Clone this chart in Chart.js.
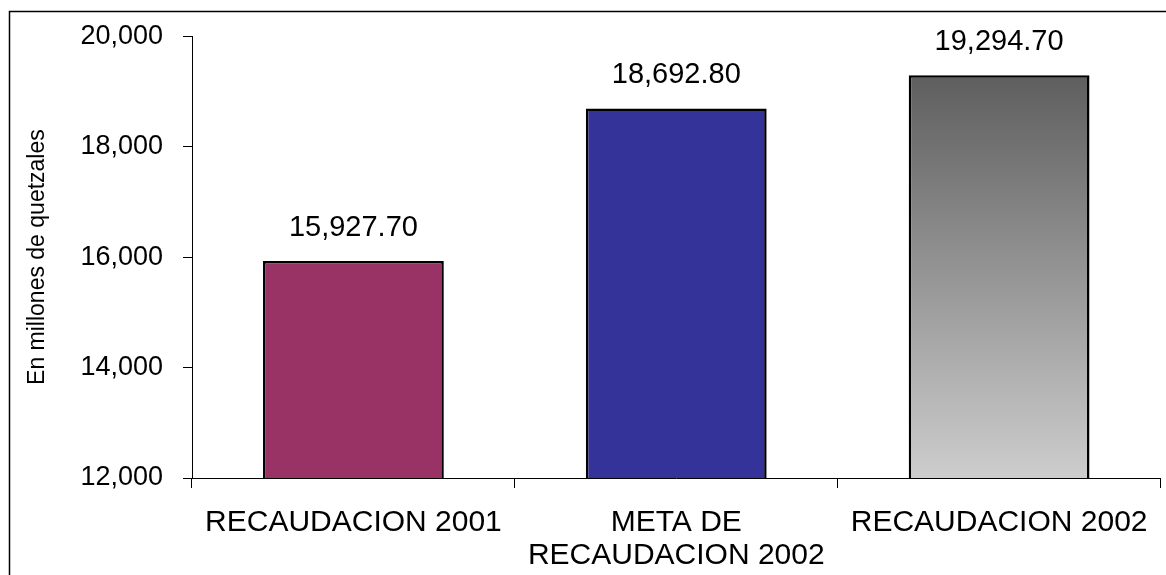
<!DOCTYPE html>
<html>
<head>
<meta charset="utf-8">
<script src="https://cdn.jsdelivr.net/npm/chart.js@4.4.1/dist/chart.umd.min.js"></script>
<style>
    html, body { margin: 0; padding: 0; background: #fff; }
    #wrap { width: 1166px; height: 575px; position: relative; }
</style>
</head>
<body>
<div id="wrap"><canvas id="chart" width="1166" height="575"></canvas></div>
<script>
// Data
const categories = ["RECAUDACION 2001", ["META DE", "RECAUDACION 2002"], "RECAUDACION 2002"];
const values = [15927.7, 18692.8, 19294.7];
const yTicks = [12000, 14000, 16000, 18000, 20000];
const axisTitle = "En millones de quetzales";

const FONT = "'Liberation Sans', Arial, sans-serif";

// outer frame of the original figure
const framePlugin = {
    id: "frame",
    beforeDraw(chart) {
        const ctx = chart.ctx;
        ctx.save();
        ctx.fillStyle = "#fff";
        ctx.fillRect(0, 0, chart.width, chart.height);
        ctx.strokeStyle = "#000";
        ctx.lineWidth = 1.5;
        ctx.strokeRect(9.5, 11.5, 2000, 2000);
        ctx.restore();
    }
};

// value labels above bars
const valueLabels = {
    id: "valueLabels",
    afterDatasetsDraw(chart) {
        const ctx = chart.ctx;
        const meta = chart.getDatasetMeta(0);
        ctx.save();
        ctx.font = "29px " + FONT;
        ctx.fillStyle = "#000";
        ctx.textAlign = "center";
        ctx.textBaseline = "middle";
        meta.data.forEach((bar, i) => {
            const txt = values[i].toLocaleString("en-US", { minimumFractionDigits: 2, maximumFractionDigits: 2 });
            ctx.fillText(txt, bar.x, bar.y - 33);
        });
        ctx.restore();
    }
};

function greyGradient(context) {
    const chart = context.chart;
    const area = chart.chartArea;
    if (!area) return "#999";
    const top = chart.scales.y.getPixelForValue(values[2]);
    const g = chart.ctx.createLinearGradient(0, top, 0, area.bottom);
    g.addColorStop(0, "#5e5e5e");
    g.addColorStop(1, "#cdcdcd");
    return g;
}

new Chart(document.getElementById("chart"), {
    type: "bar",
    data: {
        labels: categories,
        datasets: [{
            data: values,
            backgroundColor: (c) => c.dataIndex === 2 ? greyGradient(c) : ["#993366", "#333399"][c.dataIndex],
            borderColor: "#000",
            borderWidth: 2.5,
            borderSkipped: false,
            barPercentage: 0.56,
            categoryPercentage: 1.0
        }]
    },
    options: {
        responsive: false,
        devicePixelRatio: 1,
        animation: false,
        layout: { padding: { top: 35, right: 3, left: 0, bottom: 0 } },
        plugins: {
            legend: { display: false },
            tooltip: { enabled: false }
        },
        scales: {
            x: {
                offset: true,
                grid: { offset: true, drawOnChartArea: false, drawTicks: true, tickLength: 10, color: "#000" },
                border: { display: true, color: "#000", width: 1 },
                ticks: {
                    color: "#000",
                    font: { family: FONT, size: 30, lineHeight: 1.1 },
                    padding: 18,
                    maxRotation: 0,
                    autoSkip: false
                },
                afterFit(scale) { scale.height = 97; }
            },
            y: {
                min: 12000,
                max: 20000,
                afterBuildTicks(scale) { scale.ticks = yTicks.map(v => ({ value: v })); },
                grid: { drawOnChartArea: false, drawTicks: true, tickLength: 9, color: "#000" },
                border: { display: true, color: "#000", width: 1 },
                ticks: {
                    color: "#000",
                    font: { family: FONT, size: 27 },
                    padding: 20,
                    callback: (v) => v.toLocaleString("en-US")
                },
                title: {
                    display: true,
                    text: axisTitle,
                    color: "#000",
                    font: { family: FONT, size: 23 },
                    padding: { top: 24, bottom: 0 }
                },
                afterFit(scale) { scale.width = 192; }
            }
        }
    },
    plugins: [framePlugin, valueLabels]
});
</script>
</body>
</html>
